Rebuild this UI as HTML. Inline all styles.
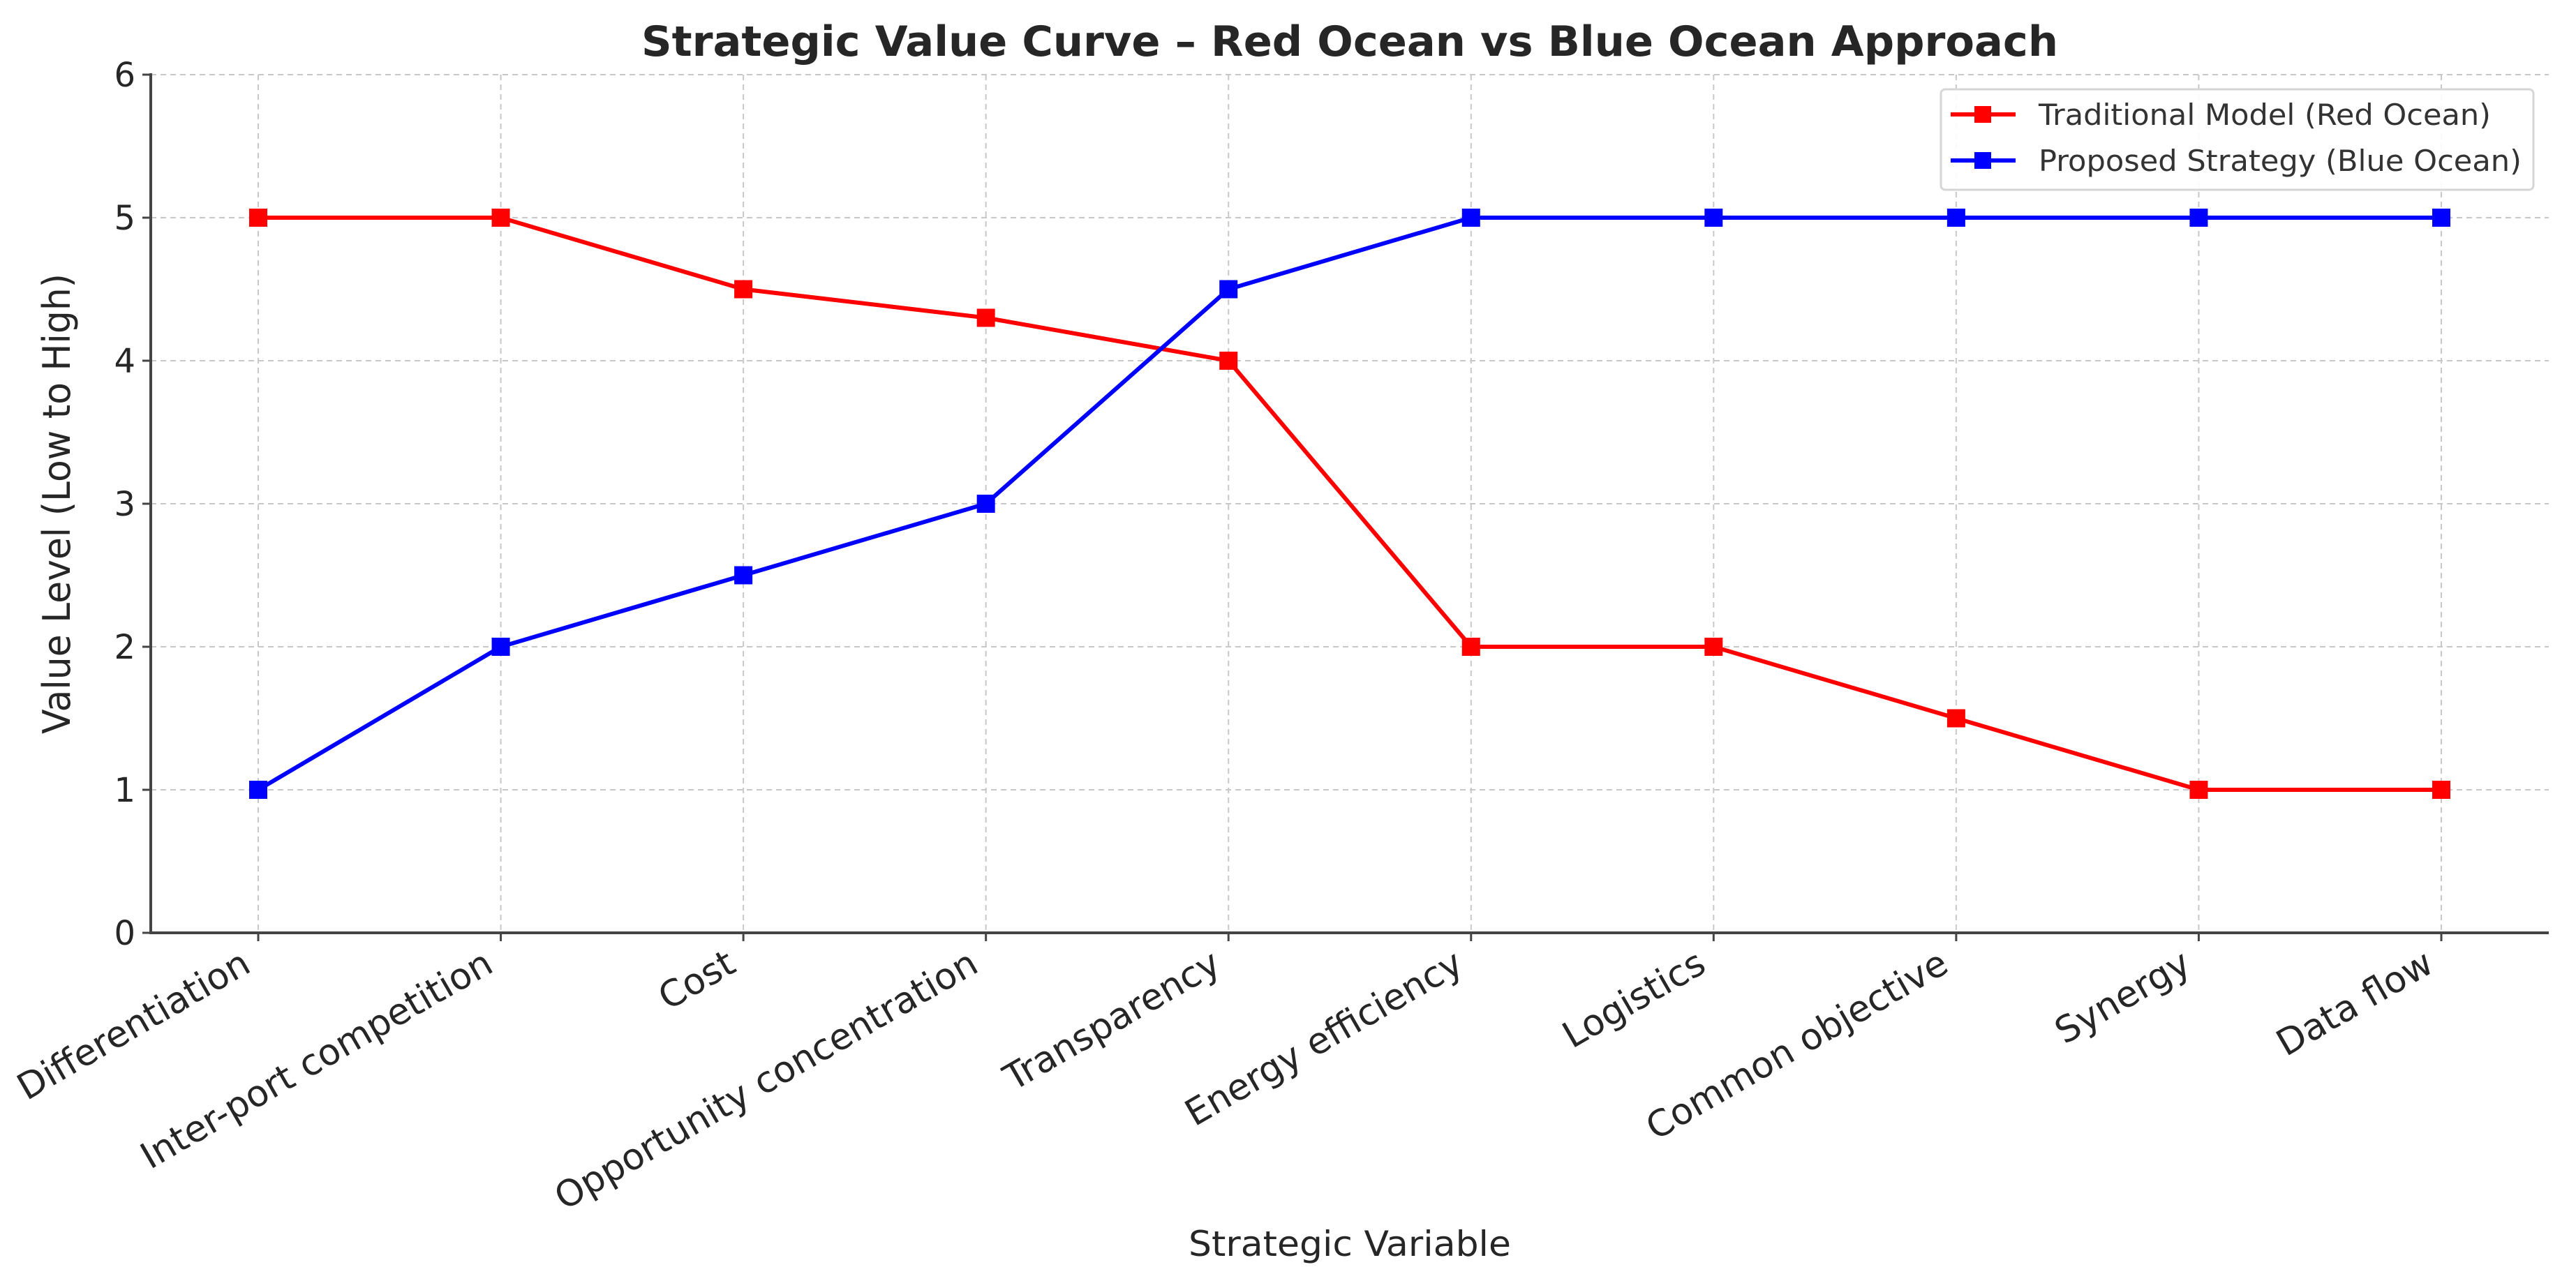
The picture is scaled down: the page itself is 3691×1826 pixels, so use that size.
<!DOCTYPE html>
<html><head><meta charset="utf-8"><style>
html,body{margin:0;padding:0;background:#fff;}
svg{display:block;font-family:"DejaVu Sans","Liberation Sans",sans-serif;}
</style></head><body>
<svg id="chart" width="3691" height="1826" viewBox="0 0 3691 1826">
<rect width="3691" height="1826" fill="#fff"/>
<text x="1934" y="80" text-anchor="middle" font-size="60" font-weight="bold" fill="#262626" textLength="2030" lengthAdjust="spacingAndGlyphs">Strategic Value Curve – Red Ocean vs Blue Ocean Approach</text>
<g id="grid"></g>
<g id="axes"></g>
<g id="series"></g>
<text x="1934" y="1800" text-anchor="middle" font-size="50" fill="#262626" textLength="462" lengthAdjust="spacingAndGlyphs">Strategic Variable</text>
<text transform="translate(100,722) rotate(-90)" text-anchor="middle" font-size="54" fill="#262626" textLength="660" lengthAdjust="spacingAndGlyphs">Value Level (Low to High)</text>
<g>
<rect x="2781" y="128" width="849" height="144" rx="6" fill="#fff" fill-opacity="0.9" stroke="#d6d6d6" stroke-width="3"/>
<g>
<line x1="2795" y1="164" x2="2888" y2="164" stroke="#ff0000" stroke-width="6"/>
<rect x="2829" y="152" width="24" height="24" fill="#ff0000"/>
<text x="2921" y="179" font-size="42" fill="#333" textLength="648" lengthAdjust="spacingAndGlyphs">Traditional Model (Red Ocean)</text>
</g>
<g>
<line x1="2795" y1="230" x2="2888" y2="230" stroke="#0000ff" stroke-width="6"/>
<rect x="2829" y="218" width="24" height="24" fill="#0000ff"/>
<text x="2921" y="245" font-size="42" fill="#333" textLength="692" lengthAdjust="spacingAndGlyphs">Proposed Strategy (Blue Ocean)</text>
</g>
</g>
</svg>
<script>
const categories = ["Differentiation","Inter-port competition","Cost","Opportunity concentration","Transparency","Energy efficiency","Logistics","Common objective","Synergy","Data flow"];
const redValues = [5,5,4.5,4.3,4,2,2,1.5,1,1];
const blueValues = [1,2,2.5,3,4.5,5,5,5,5,5];
const yTicks = [0,1,2,3,4,5,6];

const NS = "http://www.w3.org/2000/svg";
const L = 216, R = 3652, T = 107, B = 1337;
const yMin = 0, yMax = 6;
const firstX = 370, stepX = (3498 - 370) / (categories.length - 1);
function xs(i){ return firstX + i * stepX; }
function ys(v){ return B - (v - yMin) / (yMax - yMin) * (B - T); }
function el(tag, attrs, parent){
  const e = document.createElementNS(NS, tag);
  for (const k in attrs) e.setAttribute(k, attrs[k]);
  parent.appendChild(e);
  return e;
}
const grid = document.getElementById('grid');
const axes = document.getElementById('axes');
const series = document.getElementById('series');

yTicks.forEach(function(t){
  const y = ys(t);
  const g = el('line', {x1:L, y1:y, x2:R, y2:y, stroke:'#c8c8c8', 'stroke-width':2, 'stroke-dasharray':'8,6'}, grid);
  
  
  const tk = el('line', {x1:L-12, y1:y, x2:L, y2:y, stroke:'#444', 'stroke-width':3}, axes);
  
  
  const lb = el('text', {x:L-22, y:y+17, 'text-anchor':'end', 'font-size':48, fill:'#262626'}, axes);
  lb.textContent = t;
  
  
});
categories.forEach(function(c, i){
  const x = xs(i);
  const g = el('line', {x1:x, y1:T, x2:x, y2:B, stroke:'#c8c8c8', 'stroke-width':2, 'stroke-dasharray':'8,6'}, grid);
  
  
  const tk = el('line', {x1:x, y1:B, x2:x, y2:B+12, stroke:'#444', 'stroke-width':3}, axes);
  
  
  const lb = el('text', {transform:'translate('+(x-8)+','+(B+54)+') rotate(-30)', 'text-anchor':'end', 'font-size':52, fill:'#262626'}, axes);
  lb.textContent = c;
  
  
});
const ax1 = el('line', {x1:L, y1:T-2, x2:L, y2:B+2, stroke:'#444', 'stroke-width':4}, axes);


const ax2 = el('line', {x1:L-2, y1:B, x2:R, y2:B, stroke:'#444', 'stroke-width':4}, axes);



function drawSeries(vals, color, name){
  const pts = vals.map(function(v,i){ return xs(i)+','+ys(v); }).join(' ');
  const pl = el('polyline', {points:pts, fill:'none', stroke:color, 'stroke-width':6, 'stroke-linejoin':'round'}, series);
  
  
  vals.forEach(function(v,i){
    const m = el('rect', {x:xs(i)-13, y:ys(v)-13, width:26, height:26, fill:color}, series);
    
    
  });
}
drawSeries(redValues, '#ff0000', 'red-ocean');
drawSeries(blueValues, '#0000ff', 'blue-ocean');
</script>
</body></html>
